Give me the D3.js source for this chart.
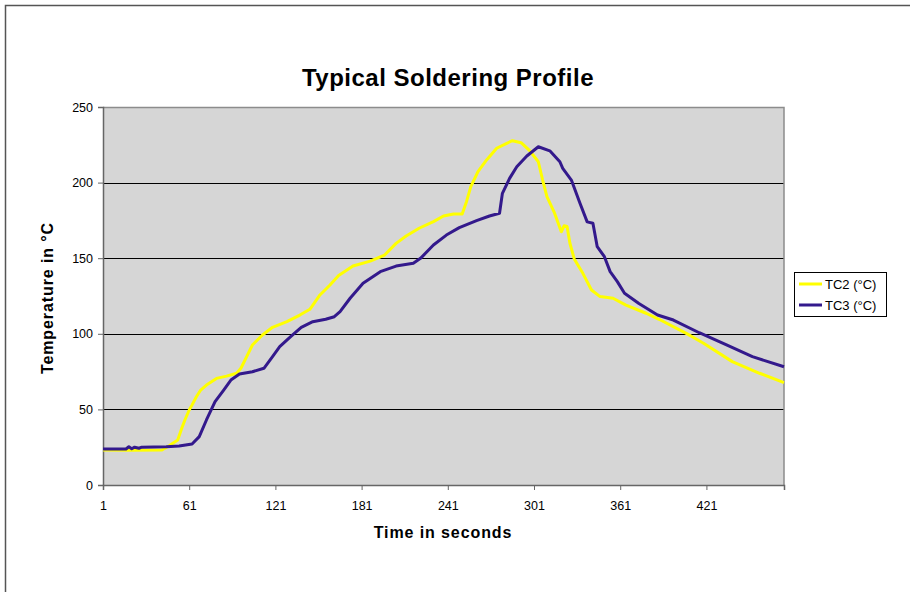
<!DOCTYPE html>
<html>
<head>
<meta charset="utf-8">
<script src="https://cdn.jsdelivr.net/npm/d3@7"></script>
<style>
  body { margin: 0; background: #fff; }
  text { font-family: "Liberation Sans", Arial, sans-serif; }
</style>
</head>
<body>
<div id="chart"></div>
<script>
// values (time in s, temperature in °C)
var tc2Time = [1, 20, 42, 47, 53, 56, 58, 61, 63, 66, 69, 73, 80, 87, 94, 97, 101, 105, 112, 119,
  129, 138, 145, 152, 159, 165, 175, 187, 197, 205, 212, 221, 231, 238, 245, 251, 254, 257, 262, 268,
  275, 282, 286, 292, 298, 304, 307, 310, 315, 320, 322, 324, 326, 329, 335, 341, 347, 356, 365, 379,
  388, 407, 419, 439, 458, 475];
var tc2Temp = [23.1, 23, 23.2, 26, 29.8, 38, 43, 49.6, 53, 58.4, 62.8, 66.1, 70.5, 72, 73.9, 77.2, 84.9, 92.6, 99.2, 104.3,
  108, 112.4, 116.2, 125.7, 132.3, 138.5, 144.8, 148.1, 152.1, 159.8, 164.7, 169.8, 174.2, 177.9, 179.2, 179.2, 187.4, 197.3, 207.2, 215,
  222.7, 226, 227.7, 226.4, 221.1, 213.8, 201.7, 190.7, 180.5, 167.5, 171.5, 171, 159.9, 149.5, 140, 129, 124.6, 123.5, 119, 113.6,
  109.6, 100.3, 93.7, 81.6, 73.9, 67.7];

var tc3Time = [1, 17, 19, 21, 23, 26, 28, 45, 54, 63, 68, 73, 79, 85, 90, 96, 105, 113, 119, 124,
  132, 139, 147, 156, 162, 166, 173, 182, 194, 205, 217, 222, 231, 240, 249, 261, 270, 277, 279, 284,
  289, 296, 304, 312, 319, 321, 327, 333, 338, 342, 345, 350, 354, 359, 364, 374, 387, 398, 416, 435,
  453, 475];
var tc3Temp = [23.8, 23.8, 25.3, 24, 25, 24.3, 25, 25.3, 25.8, 27.1, 32, 43, 55.1, 62.8, 69.4, 73.4, 74.9, 77.2, 84.9, 91.5,
  98.5, 104.3, 108, 109.6, 111.3, 114.6, 123.5, 133.4, 141.1, 144.8, 146.6, 149.9, 158.7, 165.3, 170.2, 174.8, 177.9, 179.7, 192.9, 202.8,
  210.5, 217.6, 223.7, 221, 213.8, 209.4, 201.7, 186.3, 174, 173.1, 157.6, 151, 141.1, 134.5, 126.8, 120, 112.4, 109.1, 100.7, 92.6,
  84.9, 78.2];

var seriesNames = ["TC2 (°C)", "TC3 (°C)"];
var seriesColors = ["#ffff00", "#33198c"];
var xTicks = [1, 61, 121, 181, 241, 301, 361, 421];
var yTicks = [0, 50, 100, 150, 200, 250];

var W = 910, H = 592;
var margin = {top: 107, right: 126, bottom: 107, left: 103},
    width = W - margin.left - margin.right,
    height = H - margin.top - margin.bottom;

var svg = d3.select("#chart").append("svg")
    .attr("width", W)
    .attr("height", H);

// outer chart frame
svg.append("rect")
    .attr("x", 5.5).attr("y", 5.5)
    .attr("width", W + 10).attr("height", H + 10)
    .attr("fill", "none")
    .attr("stroke", "#555")
    .attr("stroke-width", 1.5);

svg.append("text")
    .attr("x", 448).attr("y", 86)
    .attr("text-anchor", "middle")
    .style("font-size", "24px")
    .style("font-weight", "bold")
    .style("letter-spacing", "0.5px")
    .text("Typical Soldering Profile");

var g = svg.append("g")
    .attr("transform", "translate(" + margin.left + "," + margin.top + ")");

var x = d3.scaleLinear().domain([1, 475]).range([0, width]);
var y = d3.scaleLinear().domain([0, 250]).range([height, 0]);

g.append("rect")
    .attr("width", width).attr("height", height)
    .attr("fill", "#d6d6d6");

// gridlines
g.selectAll(".grid")
    .data(yTicks.filter(function (d) { return d > 0 && d < 250; }))
  .enter().append("line")
    .attr("x1", 0).attr("x2", width)
    .attr("y1", function (d) { return Math.round(y(d)) + 0.5; })
    .attr("y2", function (d) { return Math.round(y(d)) + 0.5; })
    .attr("stroke", "#000")
    .attr("stroke-width", 1);

// plot top/right border
g.append("path")
    .attr("d", "M0,0.5H" + width + "V" + height)
    .attr("fill", "none")
    .attr("stroke", "#8c8c8c")
    .attr("stroke-width", 1.5);

var yAxis = d3.axisLeft(y).tickValues(yTicks).tickSize(5).tickPadding(5);
var xAxis = d3.axisBottom(x).tickValues(xTicks).tickSize(5).tickPadding(11);

var yg = g.append("g").attr("class", "y-axis").call(yAxis);
var xg = g.append("g").attr("class", "x-axis")
    .attr("transform", "translate(0," + height + ")")
    .call(xAxis);

[yg, xg].forEach(function (a) {
  a.select(".domain").attr("stroke", "#666").attr("stroke-width", 1.5);
  a.selectAll(".tick line").attr("stroke", "#666");
  a.selectAll("text").style("font-size", "12.5px").attr("fill", "#000")
    .style("font-family", "'Liberation Sans', Arial, sans-serif");
});

var line = d3.line()
    .x(function (d) { return x(d[0]); })
    .y(function (d) { return y(d[1]); });

var series = [d3.zip(tc2Time, tc2Temp), d3.zip(tc3Time, tc3Temp)];

g.selectAll(".series")
    .data(series)
  .enter().append("path")
    .attr("class", "series")
    .attr("d", line)
    .attr("fill", "none")
    .attr("stroke", function (d, i) { return seriesColors[i]; })
    .attr("stroke-width", 3)
    .attr("stroke-linejoin", "round");

// axis titles
svg.append("text")
    .attr("x", 443).attr("y", 538)
    .attr("text-anchor", "middle")
    .style("font-size", "16px")
    .style("font-weight", "bold")
    .style("letter-spacing", "0.9px")
    .text("Time in seconds");

svg.append("text")
    .attr("transform", "translate(53,298) rotate(-90)")
    .attr("text-anchor", "middle")
    .style("font-size", "16px")
    .style("font-weight", "bold")
    .style("letter-spacing", "0.9px")
    .text("Temperature in °C");

// legend
var legend = svg.append("g").attr("transform", "translate(794,272)");
legend.append("rect")
    .attr("x", 0.5).attr("y", 0.5)
    .attr("width", 92).attr("height", 44)
    .attr("fill", "#fff")
    .attr("stroke", "#000");

var item = legend.selectAll(".item")
    .data(seriesNames)
  .enter().append("g")
    .attr("transform", function (d, i) { return "translate(5," + (12 + i * 21) + ")"; });

item.append("line")
    .attr("x1", 0).attr("x2", 23)
    .attr("stroke", function (d, i) { return seriesColors[i]; })
    .attr("stroke-width", 3);

item.append("text")
    .attr("x", 26).attr("dy", "0.35em")
    .style("font-size", "13px")
    .text(function (d) { return d; });
</script>
</body>
</html>
